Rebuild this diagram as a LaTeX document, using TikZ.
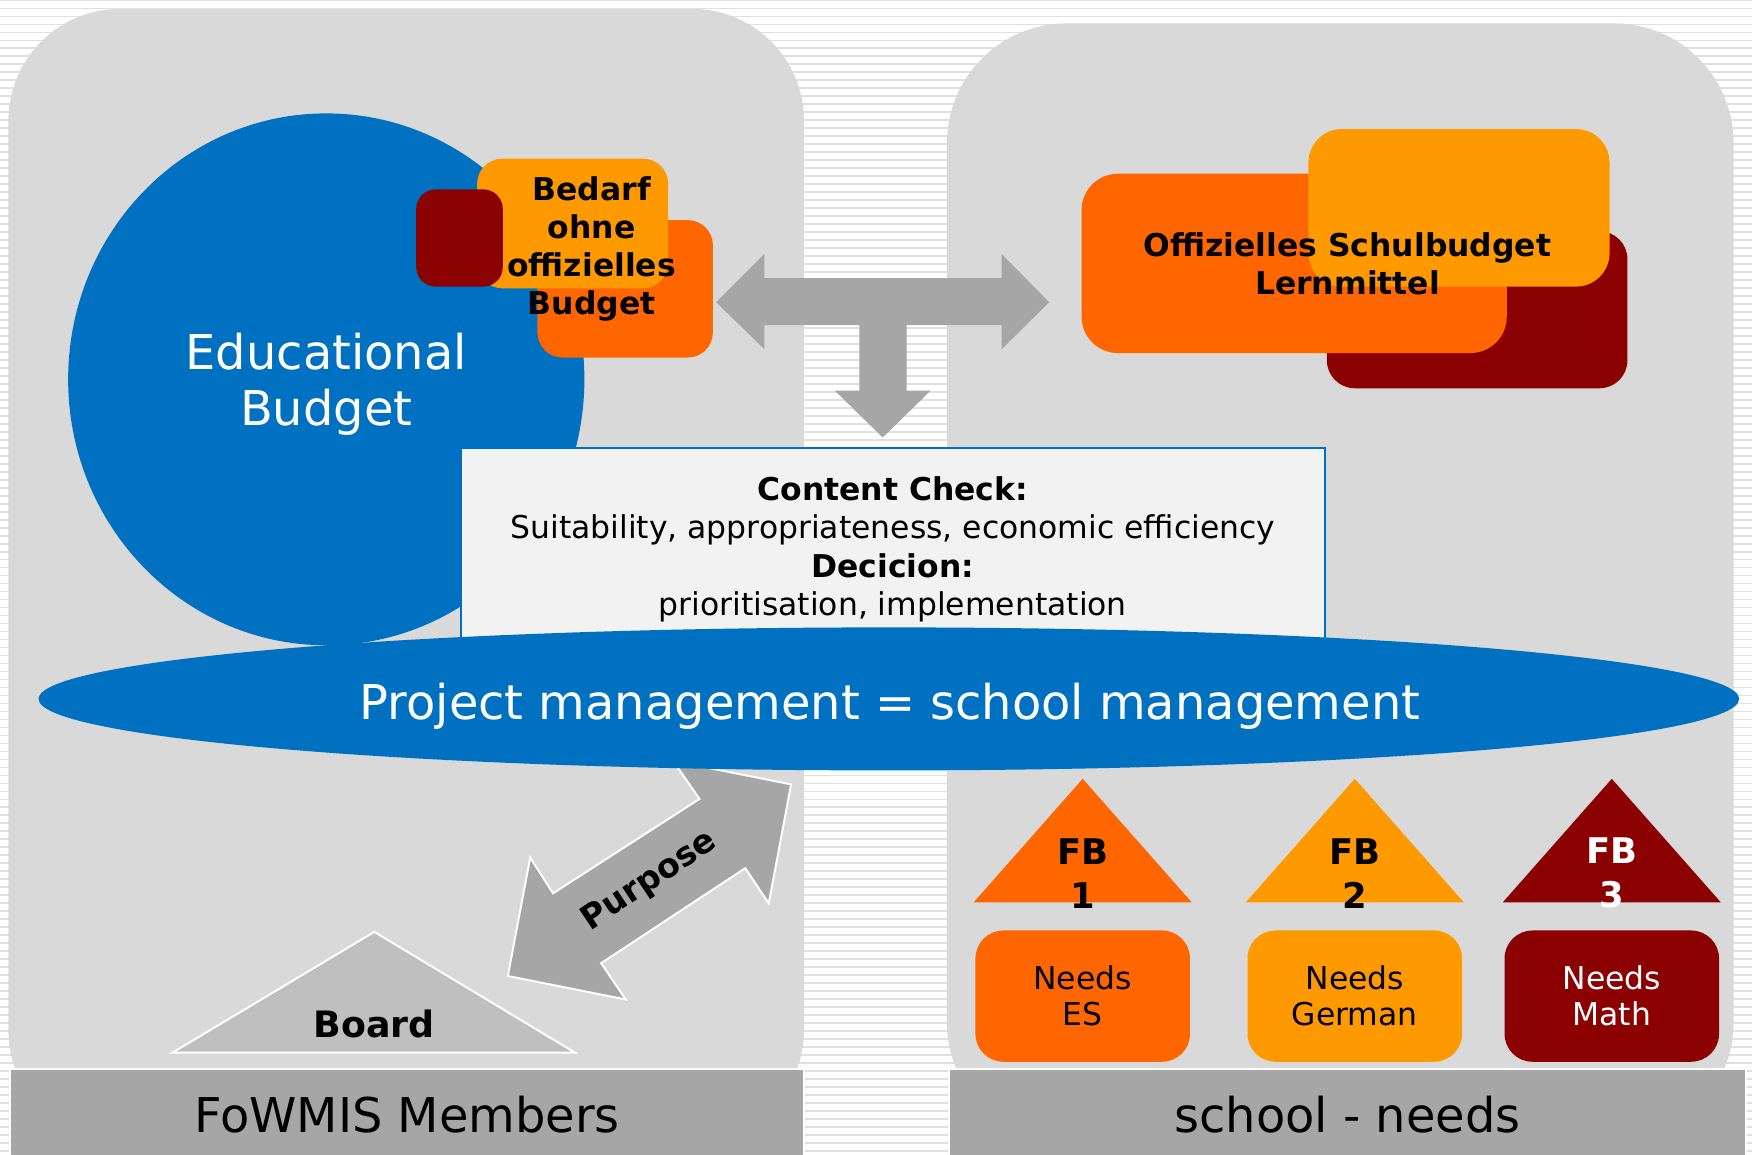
\documentclass[tikz,border=0pt]{standalone}
\usepackage{fontspec}
\setmainfont{DejaVu Sans}
\usetikzlibrary{shapes.geometric}
\definecolor{panelgray}{HTML}{D9D9D9}
\definecolor{bargray}{HTML}{A6A6A6}
\definecolor{budgetblue}{HTML}{0070C0}
\definecolor{redorange}{HTML}{FF6600}
\definecolor{lightorange}{HTML}{FF9900}
\definecolor{darkred}{HTML}{8B0000}
\definecolor{boxgray}{HTML}{F2F2F2}
\definecolor{boardgray}{HTML}{BFBFBF}
\definecolor{stripegray}{HTML}{E0E0E0}
\tikzset{
    panel/.style={fill=panelgray, inner sep=0pt},
    footbar/.style={fill=bargray, draw=white, line width=1pt, inner sep=0pt, font={\fontsize{24.4}{28}\selectfont}},
    tile/.style={inner sep=0pt},
    bigtext/.style={inner sep=0pt, align=center, text=white, font={\fontsize{24.4}{28.5}\selectfont}},
    midtext/.style={inner sep=0pt, align=center, font={\fontsize{16}{19.6}\selectfont}},
    midbold/.style={inner sep=0pt, align=center, font={\fontsize{16}{19.35}\selectfont\bfseries}},
    fbtext/.style={inner sep=0pt, align=center, font={\fontsize{18}{22.5}\selectfont\bfseries}},
    needsbox/.style={inner sep=0pt, align=center, minimum width=3.84cm, minimum height=2.35cm, rounded corners=0.5cm, font={\fontsize{16}{18.4}\selectfont}},
}

\begin{document}
\begin{tikzpicture}
        % Background, panels, shapes and labels:
        \useasboundingbox (0,0) rectangle (31.36,20.66);
        \fill[white] (0,0) rectangle (31.36,20.66);
        \foreach \i in {0,...,144}
            \draw[stripegray, line width=0.85pt] (0,\i*0.143+0.06) -- (31.36,\i*0.143+0.06);
        \node[panel, minimum width=14.24cm, minimum height=20.28cm, rounded corners=2cm](members) at (7.27, 10.36){};
        \node[panel, minimum width=14.08cm, minimum height=20.02cm, rounded corners=2.14cm](school) at (23.99, 10.23){};
        \node[footbar, minimum width=14.21cm, minimum height=1.62cm](membersbar) at (7.285, 0.71){FoWMIS Members};
        \node[footbar, minimum width=14.28cm, minimum height=1.62cm](schoolbar) at (24.12, 0.71){school - needs};
        \node[ellipse, fill=budgetblue, minimum width=9.24cm, minimum height=9.52cm, inner sep=0pt](budget) at (5.84, 13.87){};
        \node[bigtext](budgetlabel) at (5.84, 13.78){Educational\\Budget};
        \node[tile, fill=redorange, minimum width=3.14cm, minimum height=2.46cm, rounded corners=0.45cm](needback) at (11.19, 15.49){};
        \node[tile, fill=lightorange, minimum width=3.42cm, minimum height=2.32cm, rounded corners=0.45cm](needfront) at (10.25, 16.66){};
        \node[tile, fill=darkred, minimum width=1.55cm, minimum height=1.74cm, rounded corners=0.35cm](needmark) at (8.225, 16.40){};
        \node[midbold](needlabel) at (10.59, 16.20){Bedarf\\ohne\\offizielles\\Budget};
        \node[tile, fill=darkred, minimum width=5.38cm, minimum height=2.81cm, rounded corners=0.5cm](schoolback) at (26.44, 15.115){};
        \node[tile, fill=redorange, minimum width=7.61cm, minimum height=3.21cm, rounded corners=0.65cm](schoolmid) at (23.165, 15.945){};
        \node[tile, fill=lightorange, minimum width=5.39cm, minimum height=2.82cm, rounded corners=0.6cm](schoolfront) at (26.115, 16.94){};
        \node[midbold](schoollabel) at (24.12, 15.94){Offizielles Schulbudget\\Lernmittel};
        \fill[bargray] (12.82, 15.25) -- (13.68, 16.11) -- (13.68, 15.68) -- (17.93, 15.68) -- (17.93, 16.11) -- (18.78, 15.25) -- (17.93, 14.41) -- (17.93, 14.84) -- (16.23, 14.84) -- (16.23, 13.67) -- (16.66, 13.67) -- (15.80, 12.83) -- (14.94, 13.67) -- (15.38, 13.67) -- (15.38, 14.84) -- (13.68, 14.84) -- (13.68, 14.41) -- cycle;
        \node[draw=budgetblue, fill=boxgray, line width=1pt, minimum width=15.46cm, minimum height=3.78cm, inner sep=0pt](check) at (15.99, 10.75){};
        \node[midtext](checklabel) at (15.98, 10.83){\textbf{Content Check:}\\Suitability, appropriateness, economic efficiency\\\textbf{Decicion:}\\prioritisation, implementation};
        \filldraw[fill=bargray, draw=white, line width=1pt] (9.09, 3.19) -- (11.20, 2.77) -- (10.76, 3.42) -- (13.34, 5.12) -- (13.76, 4.49) -- (14.16, 6.62) -- (12.05, 7.04) -- (12.52, 6.36) -- (9.90, 4.67) -- (9.49, 5.31) -- cycle;
        \node[inner sep=0pt, rotate=33.7, font={\fontsize{17}{20}\selectfont\bfseries}](purpose) at (11.63, 4.88){Purpose};
        \node[ellipse, fill=budgetblue, minimum width=30.44cm, minimum height=2.56cm, inner sep=0pt](project) at (15.91, 8.15){};
        \node[bigtext](projectlabel) at (15.93, 8.02){Project management = school management};
        \filldraw[fill=boardgray, draw=white, line width=1pt] (3.09, 1.82) -- (6.70, 3.98) -- (10.29, 1.82) -- cycle;
        \node[inner sep=0pt, font={\fontsize{18.5}{22}\selectfont\bfseries}](board) at (6.70, 2.34){Board};
        \foreach \x/\col/\txt/\num in {19.38/redorange/black/1, 24.25/lightorange/black/2, 28.85/darkred/white/3}{
            \fill[\col] (\x-1.95, 4.51) -- (\x, 6.72) -- (\x+1.95, 4.51) -- cycle;
            \node[fbtext, text=\txt](fb\num) at (\x, 5.03){FB\\\num};
        }
        \foreach \x/\col/\txt/\subj in {19.38/redorange/black/ES, 24.25/lightorange/black/German, 28.85/darkred/white/Math}
            \node[needsbox, fill=\col, text=\txt](needs\subj) at (\x, 2.83){Needs\\\subj};
\end{tikzpicture}
\end{document}
